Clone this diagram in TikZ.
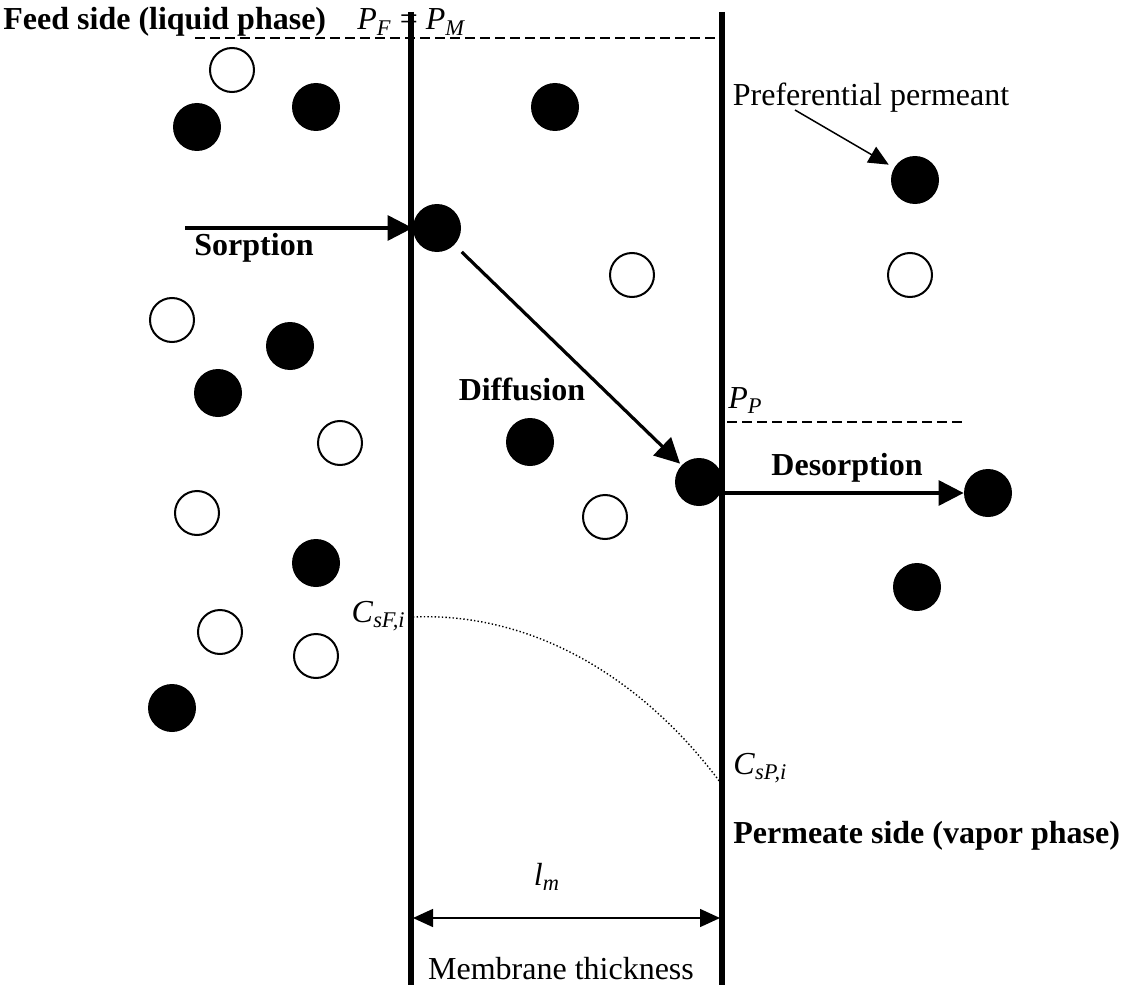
\documentclass[tikz,border=0pt]{standalone}
\usepackage{fontspec}
\setmainfont{Liberation Serif}
\usetikzlibrary{arrows.meta}
\tikzset{
  filledmol/.style={circle, fill=black, minimum size=24pt, inner sep=0pt},
  emptymol/.style={circle, draw=black, line width=1pt, minimum size=22pt, inner sep=0pt},
  wall/.style={line width=2.6pt},
  bigarrow/.style={line width=1.6pt, -{Triangle[length=12.5pt, width=12.5pt]}},
  thinarrow/.style={line width=0.75pt, -{Triangle[length=10pt, width=9pt]}},
  dimarrow/.style={line width=0.75pt, {Triangle[length=10pt, width=9pt]}-{Triangle[length=10pt, width=9pt]}},
  levelline/.style={line width=0.65pt, dash pattern=on 5pt off 2.5pt},
  lbl/.style={inner sep=0pt, font=\fontsize{16}{19}\selectfont},
  boldlbl/.style={lbl, font=\fontsize{16}{19}\selectfont\bfseries}
}
\begin{document}
\begin{tikzpicture}[x=0.5pt, y=-0.5pt]
\useasboundingbox (0,0) rectangle (1125,995);

% membrane boundaries and reference points
\coordinate (wlTop) at (411,12);
\coordinate (wlBot) at (411,985);
\coordinate (wrTop) at (722,12);
\coordinate (wrBot) at (722,985);

% pressure levels
\coordinate (pfL) at (195,38);
\coordinate (pfR) at (722,38);
\draw[levelline] (pfL) -- (pfR);
\coordinate (ppL) at (727,422);
\coordinate (ppR) at (962,422);
\draw[levelline] (ppL) -- (ppR);

% labels
\node[boldlbl, anchor=base west] (feed) at (3,30) {Feed side (liquid phase)};
\node[lbl, anchor=base west] (pfpm) at (357,30) {\textit{P}\textsubscript{\textit{F}} = \textit{P}\textsubscript{\textit{M}}};
\node[lbl, anchor=base west] (pp) at (728,408) {\textit{P}\textsubscript{\textit{P}}};
\node[lbl, anchor=base] (pref) at (871,106) {Preferential permeant};
\node[boldlbl, anchor=base] (sorp) at (254,256) {Sorption};
\node[boldlbl, anchor=base] (diff) at (522,400) {Diffusion};
\node[boldlbl, anchor=base] (desorp) at (847,475) {Desorption};
\node[lbl, anchor=base east] (csf) at (406,622) {\textit{C}\textsubscript{\textit{sF,i}}};
\node[lbl, anchor=base west] (csp) at (733,774) {\textit{C}\textsubscript{\textit{sP,i}}};
\node[boldlbl, anchor=base west] (perm) at (733,843) {Permeate side (vapor phase)};
\node[lbl, anchor=base] (lm) at (547,885) {\textit{l}\textsubscript{\textit{m}}};
\node[lbl, anchor=base] (thick) at (561,979) {Membrane thickness};

% molecules (preferential permeant filled, other component open)
\node[filledmol] (f1) at (197,127) {};
\node[filledmol] (f2) at (316,107) {};
\node[filledmol] (f3) at (555,107) {};
\node[filledmol] (f4) at (915,180) {};
\node[filledmol] (m1) at (437,228) {};
\node[filledmol] (f5) at (290,346) {};
\node[filledmol] (f6) at (218,393) {};
\node[filledmol] (f7) at (530,442) {};
\node[filledmol] (m2) at (699,482) {};
\node[filledmol] (m3) at (988,493) {};
\node[filledmol] (f8) at (316,563) {};
\node[filledmol] (f9) at (917,587) {};
\node[filledmol] (f10) at (172,708) {};

\node[emptymol] (e1) at (232,70) {};
\node[emptymol] (e2) at (632,275) {};
\node[emptymol] (e3) at (910,275) {};
\node[emptymol] (e4) at (172,320) {};
\node[emptymol] (e5) at (340,443) {};
\node[emptymol] (e6) at (197,513) {};
\node[emptymol] (e7) at (605,517) {};
\node[emptymol] (e8) at (220,632) {};
\node[emptymol] (e9) at (316,656) {};

% membrane walls
\draw[wall] (wlTop) -- (wlBot);
\draw[wall] (wrTop) -- (wrBot);

% transport steps
\coordinate (sorpStart) at (185,228);
\draw[bigarrow] (sorpStart) -- (m1.west);
\draw[bigarrow, shorten <=5pt, shorten >=1pt] (m1) -- (m2);
\coordinate (desStart) at (722,493);
\draw[bigarrow] (desStart) -- (m3.west);

% pointer to the preferential permeant
\coordinate (prefStart) at (795,110);
\draw[thinarrow, shorten >=3pt] (prefStart) -- (f4);

% concentration profile across the membrane
\coordinate (cF) at (413,617);
\coordinate (cP) at (720,782);
\draw[line width=0.7pt, dash pattern=on 0.7pt off 1.1pt] (cF) .. controls (530,612) and (640,675) .. (cP);

% membrane thickness dimension
\coordinate (dimL) at (413,918);
\coordinate (dimR) at (720,918);
\draw[dimarrow] (dimL) -- (dimR);
\end{tikzpicture}
\end{document}
